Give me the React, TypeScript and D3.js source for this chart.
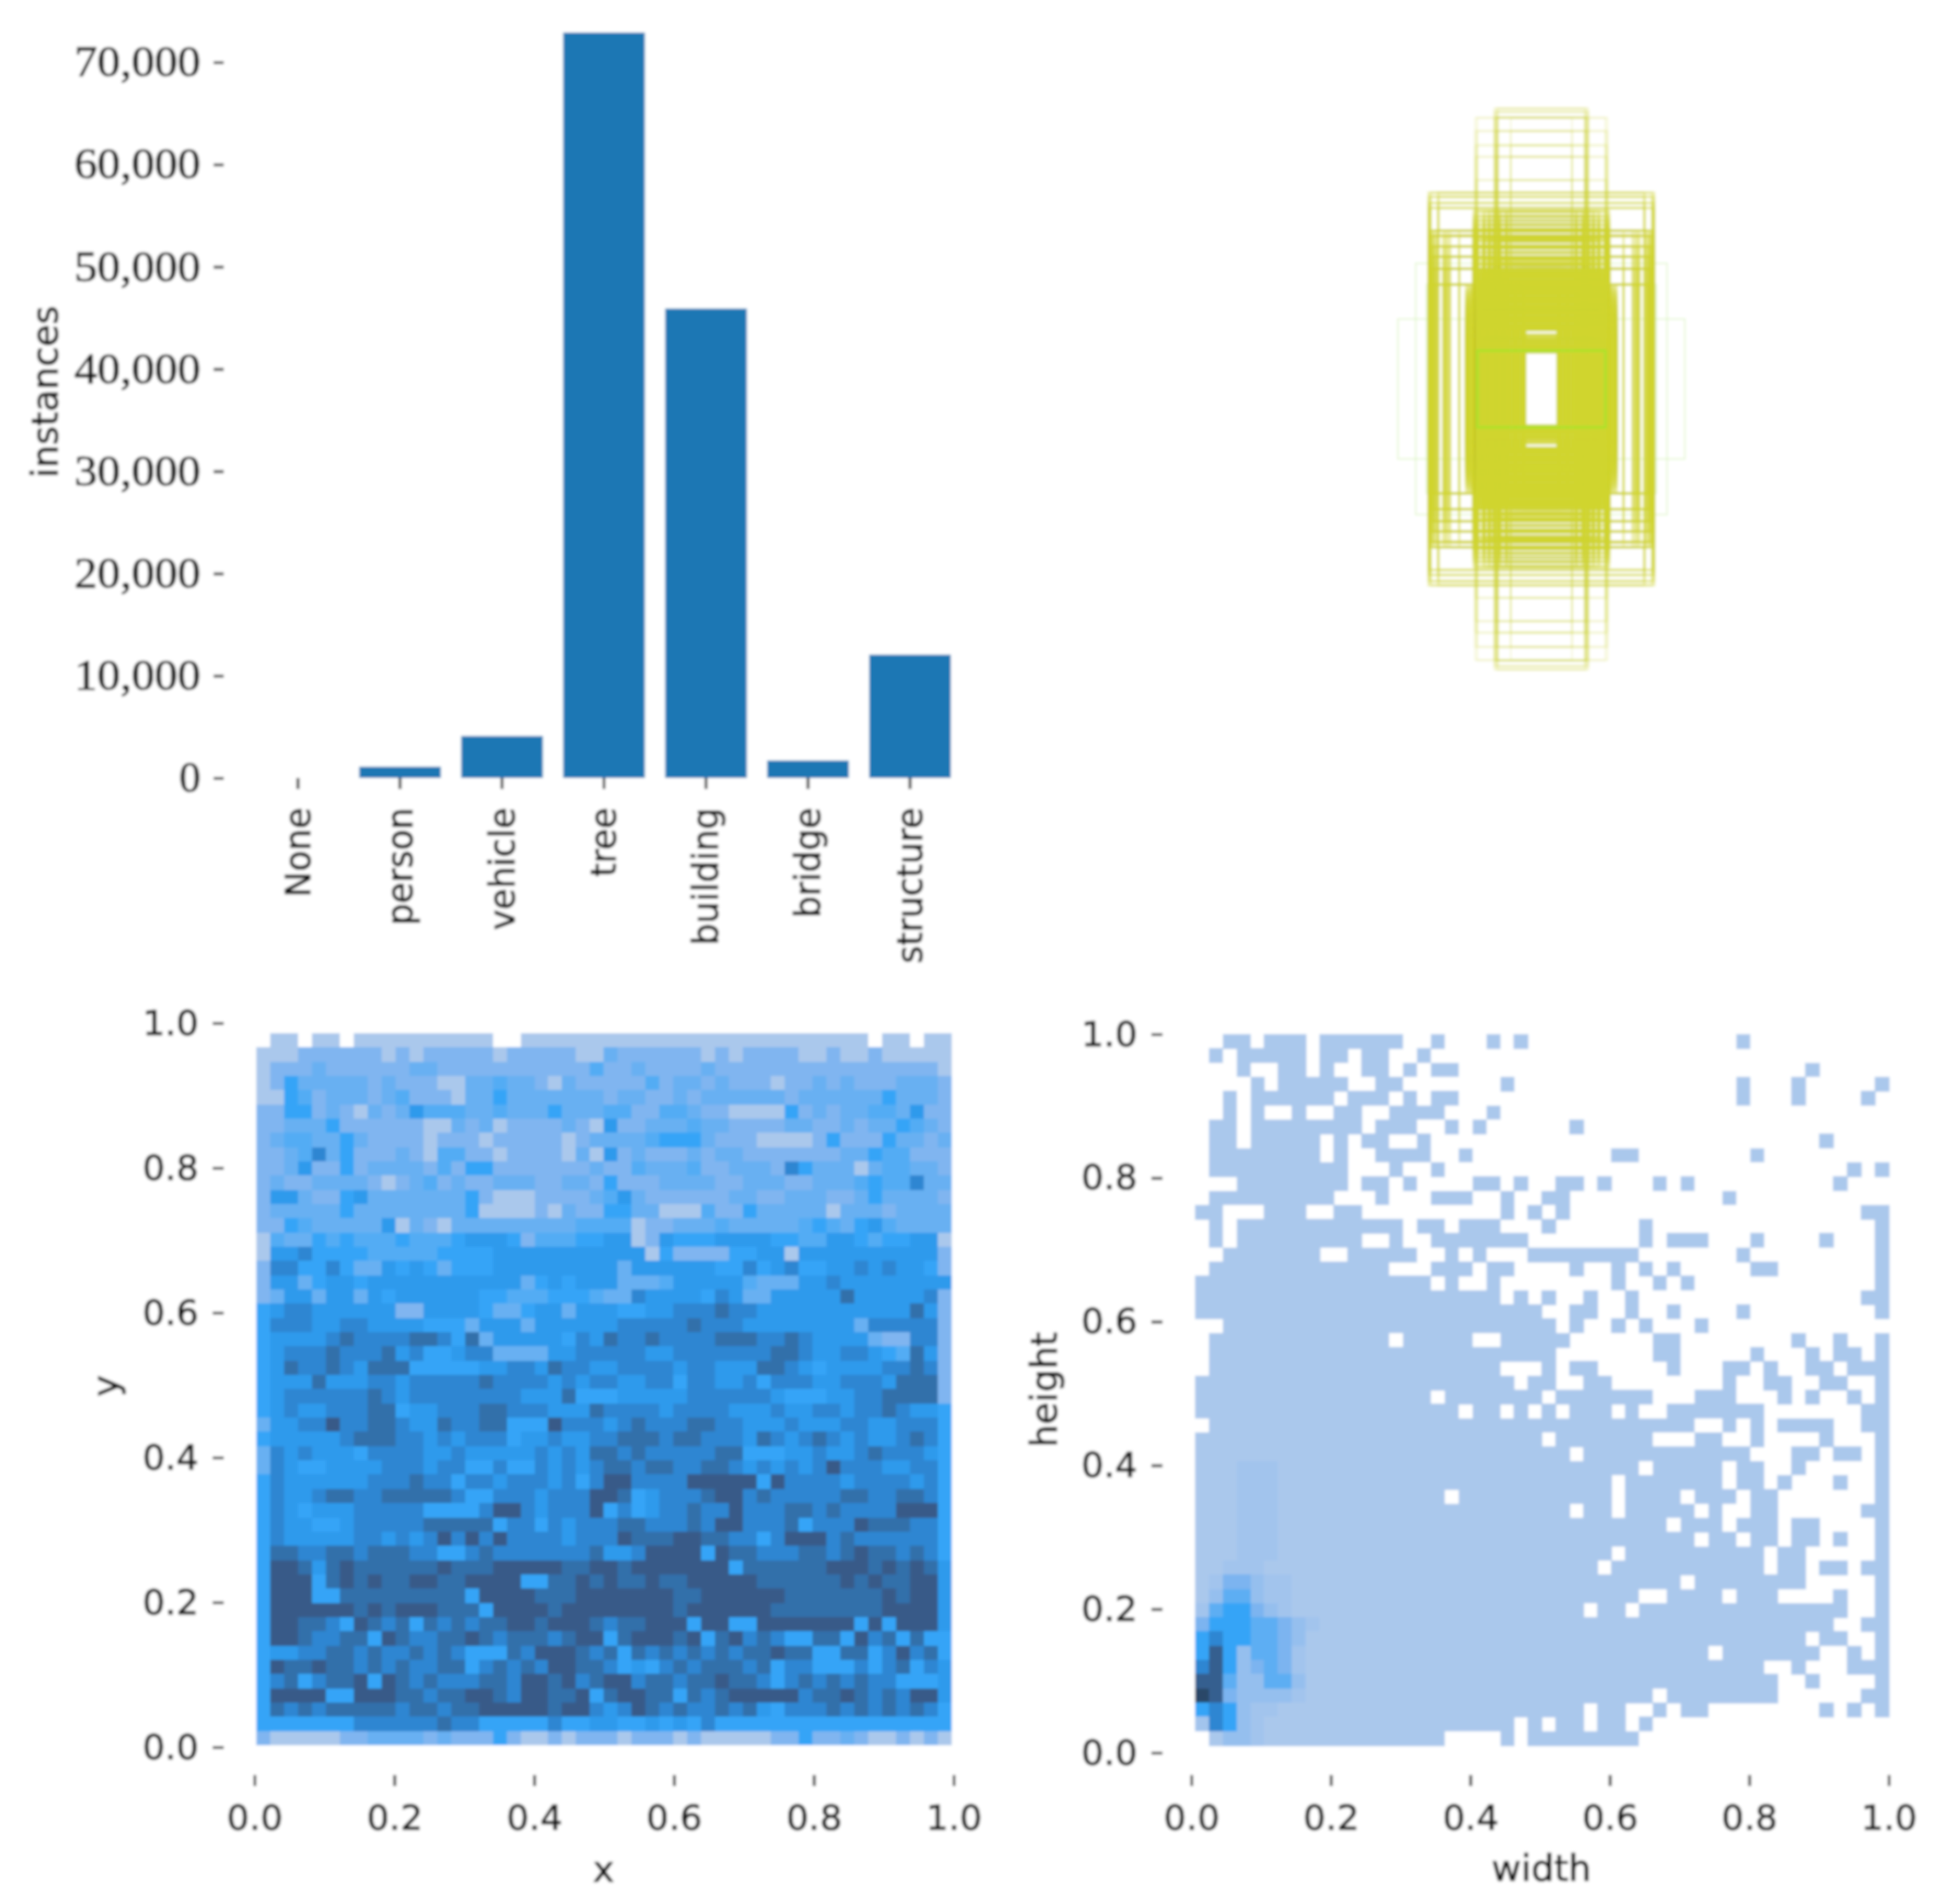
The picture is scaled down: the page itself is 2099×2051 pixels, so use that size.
import React, { useEffect, useRef } from 'react';
import * as d3 from 'd3';

const classNames = ['None', 'person', 'vehicle', 'tree', 'building', 'bridge', 'structure'];
const classCounts = [0, 1100, 4100, 72900, 45900, 1700, 12050];
const countTicks = [0, 10000, 20000, 30000, 40000, 50000, 60000, 70000];
const unitTicks = [0, 0.2, 0.4, 0.6, 0.8, 1];

// x/y histogram, top row first, one digit per cell (1 light .. 9 dark, . empty)
const xyRows = [
  '.11.11.111 1111111..1 1111111111 1111111111 1111.11.11',
  '1112222221 2122222122 2221132222 2212122221 1211211111',
  '1222322222 2332222222 2222422322 2232222222 2222222221',
  '1253333323 2221133433 2132222242 3323222122 3232223332',
  '1154233323 4222133533 3333323322 3233333323 3333353332',
  '2255232132 3644433433 3533344224 4322111152 3233443622',
  '2233352222 2211323122 2232162233 3433222233 2232335432',
  '2344335322 2212221222 2212333345 5532221111 2522253323',
  '2234735222 3214422122 2213162322 2323322222 2233544222',
  '2236225233 3324255222 2222322433 3422333275 3331344332',
  '2322333321 2342322333 2233252223 3332233322 3334544733',
  '2663225633 3333352111 2222346322 2222332233 3223533332',
  '2333335333 3333351111 2132255331 1142253333 3133323333',
  '2254333336 1321333333 3334444122 3334333334 5435643333',
  '1433545444 5444566652 4445566126 5556666554 4665455661',
  '1667555544 4445555666 6666666615 2222556616 6666666662',
  '2775575336 5653555666 6666663666 6665575675 5667676652',
  '2663566566 6666666663 5656663334 6666643336 6766666666',
  '2366366365 6666665544 4555433766 6657633666 6686666672',
  '5677666666 2266665335 6636665566 7778776666 6666666862',
  '5777667766 6655536663 6666667777 7877766666 6663777772',
  '5666678777 7887583666 6657687787 7778887787 6666322772',
  '5677787778 6755677333 3667777766 7777777887 6677654862',
  '5687787688 8555556677 6877667777 6776668876 5666677872',
  '5666866677 6777778777 7676776677 5776675777 6677768882',
  '5677777787 6777777776 6685556666 6777777655 5667788882',
  '5676677788 5667778877 7666877776 7777666766 7767787665',
  '3667797788 7668778855 5977767877 7887766676 6677667775',
  '5666667888 7767677756 6766778887 8877768767 8767667875',
  '3767666577 7766766666 7676887877 7778855566 7667877765',
  '3765566667 7767755755 7676788788 7788767676 7977766775',
  '5766666677 7877577677 7675799777 7999995977 7767777675',
  '5766788778 8888755777 6777998567 7789978777 7788778875',
  '5765666777 7755557997 6777957567 7877977788 7877779995',
  '5766556777 7788888577 5767778877 7879977785 7779888775',
  '5766666776 7679797977 7767779888 9988775799 9787777775',
  '5887788788 8775578777 7777866799 9959887778 8789887875',
  '5998689888 8889888999 9988998999 9999588888 8999898986',
  '5999589898 8998899995 5889898898 8999998888 8898988996',
  '5999558888 8888859999 8889999999 8899999988 8888898996',
  '5999999898 9998885999 9899999999 8999999888 8888899996',
  '5998875987 8587878899 8999878899 9599559999 9995959996',
  '5998778859 8778898788 8789958999 8958978755 8859785855',
  '5667788787 7878755587 9998785878 7878788988 5588579785',
  '5988988787 8778857878 7998875657 8788878577 5557578576',
  '5785788959 8787778879 9897899788 7889887578 7878775556',
  '5999955999 8878899879 9889589988 5878999997 8898787996',
  '5878788888 7887889999 9899767987 8778786577 7878787875',
  '5555555777 7778775555 5755665565 6575555555 5555555555',
  '2111112233 3323222521 1212221222 1211111225 2232112121',
];

// width/height histogram: filled column spans per row, top row first
const whSpans = [
  '2-3 5-7 9-14 17 21 23 39',
  '1 3-7 9-10 12-13 16',
  '3 6-7 9 12-13 15 17-18 44',
  '4 6-10 13-14 22 39 43 49',
  '2 4-9 11-13 15 17-18 39 43 48',
  '2 4 7 10-11 14-17 21',
  '1-2 4-11 13-15 18 20 27',
  '1-2 4-8 10 12-13 16 45',
  '1-8 10 13-16 19 30-31 40',
  '1-10 14 17 47 49',
  '3-10 12-13 15 20-21 23 26-27 29 33 35 46',
  '1-9 13 17-19 22 25-26 38',
  '0-1 5-7 10-11 22 24 26 48-49',
  '1 3-14 16-17 19-21 25 32 49',
  '1 3-11 14 17-23 32 34-36 40 45 49',
  '2-8 11-15 18 20 24-31 39 49',
  '1-13 17-19 21-22 27 30 32 34 40-41 49',
  '0-16 18 21 30 33 35 49',
  '0-21 23 25 28 31 48-49',
  '0-24 27-28 31 34 39 49',
  '2-25 27 30 32 36',
  '1-13 15-19 22-26 33-34 43 46 49',
  '1-25 33-34 40 44 46-47 49',
  '1-21 25 27-28 34 38-39 41 44-45 47-49',
  '0-22 24-25 28-29 38 41-42 45-46 49',
  '0-16 18-24 26-31 32 36-38 42 44 47 49',
  '0-18 20-21 23 25 27-29 31 34-40 48-49',
  '1-35 38 40 42-45 48-49',
  '0-24 26-32 36-37 40 45 49',
  '0-26 28-39 43-44 46-47 49',
  '0-31 33-37 39-40 43 49',
  '0-29 31-37 39-40 42 46 49',
  '0-17 19-29 31-34 36-38 40-41 49',
  '0-26 28-29 31-35 37 40-41 48-49',
  '0-33 35-37 39-41 43-44 49',
  '0-35 37-38 40-41 43-44 46 49',
  '0-29 31-40 42-43 49',
  '0-28 30-40 42-43 45-46 48-49',
  '0-34 36-43 49',
  '0-31 34-37 39-41 46 49',
  '0-27 29-30 32-46 49',
  '0-45 48-49',
  '0-43 45-46 49',
  '0-36 38-44 47 49',
  '0-40 43 47-49',
  '0-41 44 49',
  '0-32 34-41 48-49',
  '0-27 29-30 33 35-36 45 47 49',
  '0-22 24 26-27 29-30 32',
  '1-17 22 24-31',
];

// darker cells of the width/height histogram: first row, then shades from column 0
const whHotStart = 30;
const whHot = [
  '1112221', '1112221', '1112221', '1112221', '1112221', '1112221', '1112221', '1122211',
  '1244322', '1355322', '2566432', '466655432', '67665543', '68635542', '78634542',
  '88533553', '98433332', '676322', '276321', '.1332',
];
const whShades = [0, 1, 1.2, 1.5, 2.2, 3.5, 5, 7, 8.8, 10];

// label boxes drawn centred, sizes in label space (0..1000 of the panel)
const coreWidths = [48, 54, 60, 66, 72, 78, 84, 90, 96, 102, 108, 114, 120, 126, 132, 138, 144, 150, 156, 162, 168, 174, 180, 186];
const coreHeights = [105, 111, 117, 123, 129, 135, 141, 170, 176, 182, 188, 194, 200, 206, 212, 218, 224, 232, 238, 244, 250, 256, 262, 268, 274, 280, 286, 292, 298, 304, 310, 316, 322, 328, 334, 340, 346];
const rimWidths = [192, 198, 204, 210, 216];
const rimHeights = [150, 156, 170, 180, 190, 200, 210, 220, 230, 240, 250, 260, 270, 280, 290, 300];
const midWidths = [100, 120, 135, 150, 165, 184, 194];
const midHeights = [356, 362, 372, 380, 392, 404, 412, 424, 432, 440, 452, 460, 472, 484, 496, 510];
const tallWidths = [88, 125, 132, 184, 190];
const tallHeights = [520, 600, 667, 700, 741, 779];
const topWidths = [125, 130, 135];
const topHeights = [780, 796, 806];
const wideWidths = [236, 262, 270, 276, 282, 300, 306, 309, 312, 315, 318, 321, 324];
const wideHeights = [300, 345, 380, 410, 440, 455];
const edgeWidths = [296, 318, 324];
const edgeHeights = [520, 534, 552, 564];
const faintBoxes = [[412, 201], [361, 361], [330, 300]];
const greenBoxes = [[184, 110]];

const parseSpans = (s: string) => {
  const cells = new Set<number>();
  s.split(' ').forEach(part => {
    const [a, b] = part.split('-').map(Number);
    d3.range(a, (b ?? a) + 1).forEach(c => cells.add(c));
  });
  return cells;
};

const App = () => {
  const svgRef = useRef<SVGSVGElement>(null);

  useEffect(() => {
    const svg = d3.select(svgRef.current);
    svg.selectAll('*').remove();

    const defs = svg.append('defs');
    defs.append('filter').attr('id', 'soft').attr('x', 0).attr('y', 0).attr('width', 1).attr('height', 1)
      .attr('filterUnits', 'objectBoundingBox')
      .append('feGaussianBlur').attr('stdDeviation', 1.4);

    const root = svg.append('g').attr('filter', 'url(#soft)');
    root.append('rect').attr('width', 2099).attr('height', 2051).attr('fill', '#fff');

    const sans = '"DejaVu Sans", sans-serif';
    const ink = '#111';

    const styleAxis = (g, fontSize = 38, family = sans) => {
      g.select('.domain').remove();
      g.selectAll('.tick line').attr('stroke', '#333').attr('stroke-width', 3);
      g.selectAll('.tick text')
        .attr('fill', ink)
        .attr('stroke', ink)
        .attr('stroke-width', 0.7)
        .style('font-size', `${fontSize}px`)
        .style('font-family', family);
    };

    const axisTitle = (text: string, x: number, y: number, rotate = false) => {
      root.append('text')
        .attr('transform', `translate(${x},${y})${rotate ? ' rotate(-90)' : ''}`)
        .attr('text-anchor', 'middle')
        .attr('fill', ink)
        .attr('stroke', ink)
        .attr('stroke-width', 0.7)
        .style('font-family', sans)
        .style('font-size', '39px')
        .text(text);
    };

    // bars
    const barX = d3.scaleBand().domain(classNames).range([266, 1035]).paddingInner(0.2).paddingOuter(0.1);
    const barY = d3.scaleLinear().domain([0, 70000]).range([838, 67]);

    root.selectAll('.bar')
      .data(classNames)
      .enter()
      .append('rect')
      .attr('class', 'bar')
      .attr('x', d => barX(d))
      .attr('y', (_, i) => barY(classCounts[i]))
      .attr('width', barX.bandwidth())
      .attr('height', (_, i) => barY(0) - barY(classCounts[i]))
      .attr('fill', '#1f77b4');

    root.append('g')
      .attr('transform', 'translate(241,0)')
      .call(d3.axisLeft(barY).tickValues(countTicks).tickSize(11).tickPadding(14).tickFormat(d3.format(',')))
      .call(g => styleAxis(g, 46, '"Liberation Serif", serif'))
      .selectAll('.tick text')
      .filter(d => d !== 0)
      .attr('textLength', 136)
      .attr('lengthAdjust', 'spacingAndGlyphs');

    root.append('g')
      .attr('transform', 'translate(0,838)')
      .call(d3.axisBottom(barX).tickSize(12))
      .call(g => styleAxis(g, 37))
      .selectAll('.tick text')
      .attr('text-anchor', 'end')
      .attr('transform', 'rotate(-90)')
      .attr('x', -32)
      .attr('y', 0)
      .attr('dy', '0.35em');

    axisTitle('instances', 62, 422, true);

    // label boxes
    const boxSize = d3.scaleLinear().domain([0, 1000]).range([0, 750]);
    const boxes = root.append('g').attr('transform', 'translate(1660,419)').attr('fill', 'none');
    const drawBoxes = (pairs: number[][], color: string, strokeWidth: number, opacity: number) => {
      boxes.append('g')
        .selectAll('rect')
        .data(pairs)
        .enter()
        .append('rect')
        .attr('x', d => -boxSize(d[0]) / 2)
        .attr('y', d => -boxSize(d[1]) / 2)
        .attr('width', d => boxSize(d[0]))
        .attr('height', d => boxSize(d[1]))
        .attr('stroke', color)
        .attr('stroke-width', strokeWidth)
        .attr('stroke-opacity', opacity);
    };
    const yellow = '#cfd530';
    drawBoxes(faintBoxes, '#c4ee9a', 1.5, 0.45);
    drawBoxes(d3.cross(topWidths, topHeights), yellow, 2, 0.18);
    drawBoxes(d3.cross(tallWidths, tallHeights), yellow, 2, 0.16);
    drawBoxes(d3.cross(edgeWidths, edgeHeights), yellow, 2.5, 0.35);
    drawBoxes(d3.cross(wideWidths, wideHeights), yellow, 2.5, 0.26);
    drawBoxes(d3.cross(midWidths, midHeights), yellow, 3, 0.4);
    drawBoxes(d3.cross(rimWidths, rimHeights), yellow, 2.6, 0.3);
    drawBoxes(d3.cross(coreWidths, coreHeights), yellow, 2.6, 0.5);
    drawBoxes(greenBoxes, '#a3e62b', 2.5, 0.9);

    // shared colour ramp of both histograms
    const ramp = d3.scaleLinear<string>()
      .domain([1, 2, 3, 4, 5, 6, 7, 8, 9, 10])
      .range(['#aac8ec', '#80b5f0', '#68b0f2', '#52acf4', '#36a4f7', '#2f9aec', '#2d86d2', '#3170aa', '#375a88', '#2c4668']);

    const drawHeatmap = (xScale, yScale, xLimits: number[], yLimits: number[], cellLevel: (r: number, c: number) => number) => {
      const columns = d3.scaleBand<number>().domain(d3.range(50)).range([xScale(xLimits[0]), xScale(xLimits[1])]);
      const rows = d3.scaleBand<number>().domain(d3.range(50)).range([yScale(yLimits[1]), yScale(yLimits[0])]);
      const cells = d3.cross(d3.range(50), d3.range(50))
        .map(([r, c]) => ({ r, c, level: cellLevel(r, c) }))
        .filter(d => d.level > 0);
      root.append('g')
        .attr('shape-rendering', 'crispEdges')
        .selectAll('rect')
        .data(cells)
        .enter()
        .append('rect')
        .attr('x', d => columns(d.c))
        .attr('y', d => rows(d.r))
        .attr('width', columns.bandwidth() + 0.5)
        .attr('height', rows.bandwidth() + 0.5)
        .attr('fill', d => ramp(d.level));
    };

    const unitAxes = (xScale, yScale, axisX: number, axisY: number) => {
      root.append('g')
        .attr('transform', `translate(0,${axisY})`)
        .call(d3.axisBottom(xScale).tickValues(unitTicks).tickSize(12).tickPadding(20).tickFormat(d3.format('.1f')))
        .call(g => styleAxis(g));
      root.append('g')
        .attr('transform', `translate(${axisX},0)`)
        .call(d3.axisLeft(yScale).tickValues(unitTicks).tickSize(12).tickPadding(15).tickFormat(d3.format('.1f')))
        .call(g => styleAxis(g));
    };

    // x / y histogram
    const xyCells = xyRows.map(r => r.replace(/ /g, ''));
    const xyX = d3.scaleLinear().domain([0, 1]).range([274, 1027]);
    const xyY = d3.scaleLinear().domain([0, 1]).range([1882, 1102]);
    drawHeatmap(xyX, xyY, [0.0027, 0.997], [0.0026, 0.986], (r, c) => +xyCells[r][c] || 0);
    unitAxes(xyX, xyY, 241, 1912);
    axisTitle('x', 650, 2027);
    axisTitle('y', 127, 1493, true);

    // width / height histogram
    const whSets = whSpans.map(parseSpans);
    const whX = d3.scaleLinear().domain([0, 1]).range([1283, 2034]);
    const whY = d3.scaleLinear().domain([0, 1]).range([1888, 1114]);
    drawHeatmap(whX, whY, [0.005, 1], [0.0103, 1], (r, c) => {
      if (!whSets[r].has(c)) return 0;
      const hot = whHot[r - whHotStart];
      return hot && hot[c] && hot[c] !== '.' ? whShades[+hot[c]] : 1;
    });
    unitAxes(whX, whY, 1252, 1912);
    axisTitle('width', 1660, 2026);
    axisTitle('height', 1138, 1497, true);
  }, []);

  return (
    <svg
      ref={svgRef}
      width={2099}
      height={2051}
      style={{ position: 'absolute', left: 0, top: 0, display: 'block', background: '#fff' }}
    />
  );
};

export default App;
